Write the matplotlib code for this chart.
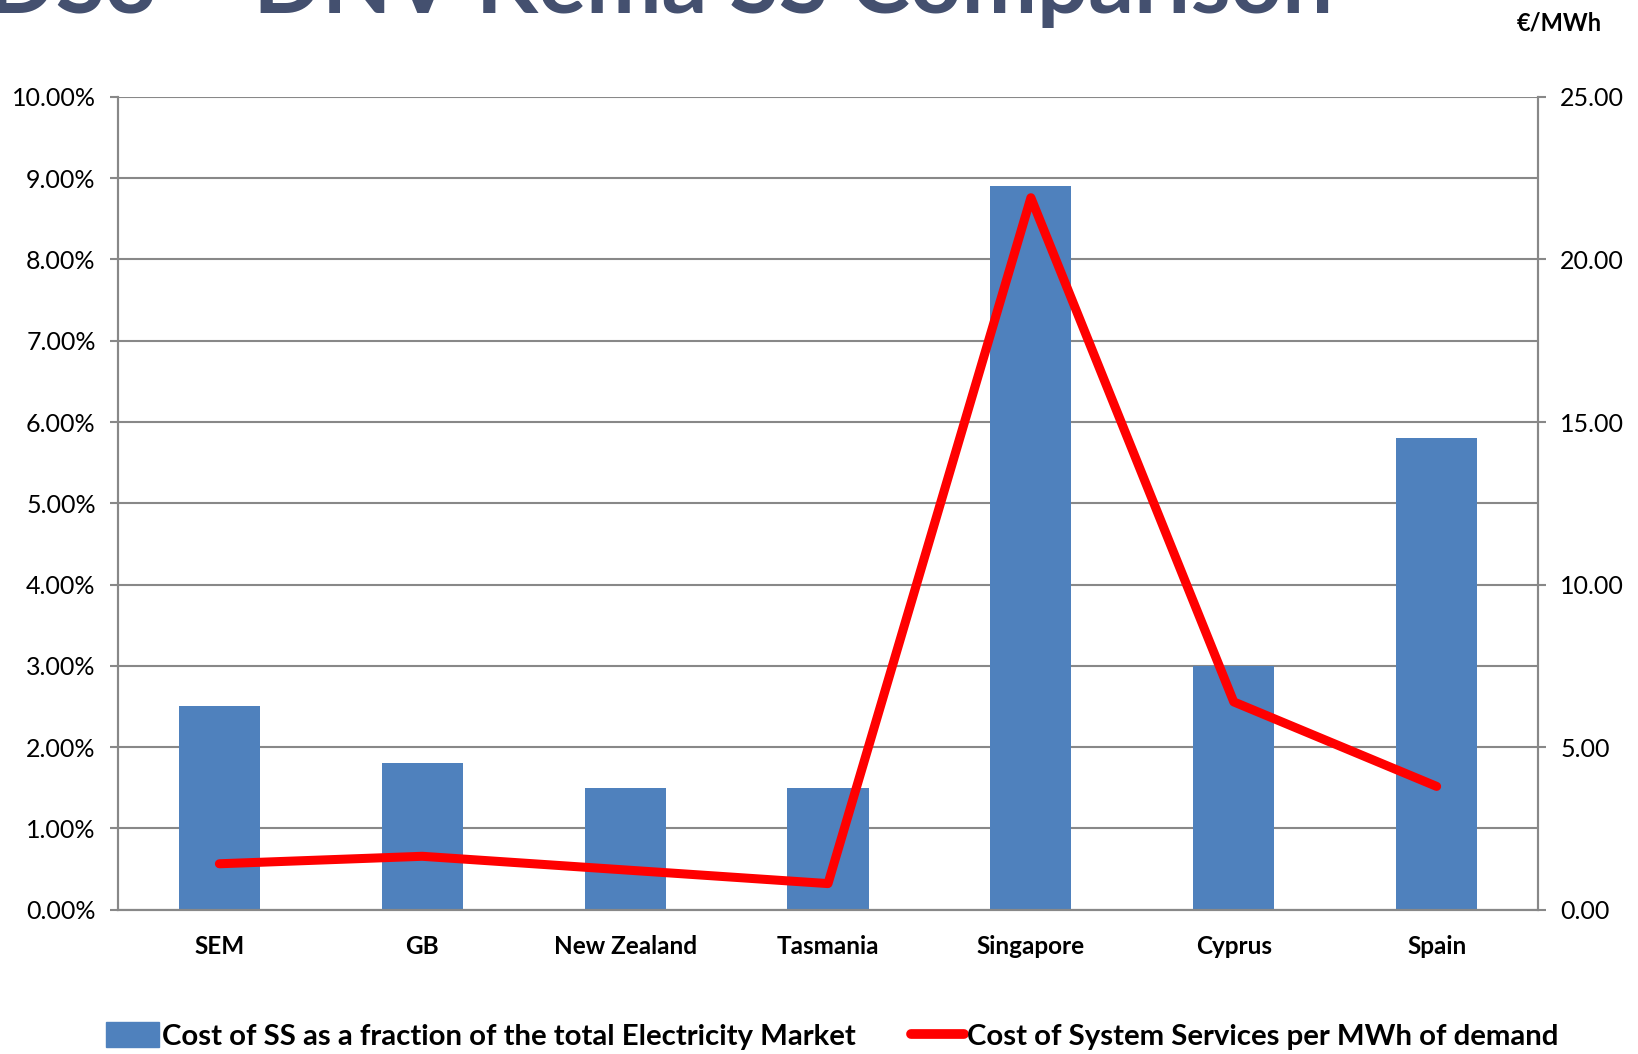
import matplotlib.pyplot as plt
from matplotlib.ticker import FuncFormatter
from matplotlib.patches import Patch
from matplotlib.lines import Line2D

# data
countries = ["SEM", "GB", "New Zealand", "Tasmania", "Singapore", "Cyprus", "Spain"]
share_pct = [2.5, 1.8, 1.5, 1.5, 8.9, 3.0, 5.8]            # % of total electricity market
cost_per_mwh = [1.41, 1.64, 1.22, 0.80, 21.9, 6.39, 3.79]  # EUR / MWh of demand

bar_label = "Cost of SS as a fraction of the total Electricity Market"
line_label = "Cost of System Services per MWh of demand"

plt.rcParams['font.family'] = ['Lato', 'DejaVu Sans']

fig = plt.figure(figsize=(16.38, 10.54), dpi=100)
ax = fig.add_axes([0.072, 0.137, 0.867, 0.771])
ax2 = ax.twinx()

x = list(range(len(countries)))
ax.bar(x, share_pct, width=0.4, color="#4F81BD", zorder=2)
ax2.plot(x, cost_per_mwh, color="#FF0000", lw=6.5, solid_capstyle="round",
         solid_joinstyle="round", zorder=3)

ax.set_xlim(-0.5, len(countries) - 0.5)
ax.set_ylim(0, 10)
ax.set_yticks(range(0, 11))
ax.yaxis.set_major_formatter(FuncFormatter(lambda v, p: "%.2f%%" % v))
ax2.set_ylim(0, 25)
ax2.set_yticks(range(0, 26, 5))
ax2.yaxis.set_major_formatter(FuncFormatter(lambda v, p: "%.2f" % v))

ax.set_xticks(x)
ax.set_xticklabels(countries, fontsize=17.5, fontweight="bold")
ax.tick_params(axis="x", length=0, pad=18)
ax.tick_params(axis="y", labelsize=18, length=6, width=1.5, color="#888888", pad=10)
ax2.tick_params(axis="y", labelsize=18, length=6, width=1.5, color="#888888", pad=10)

ax.yaxis.grid(True, color="#888888", lw=1.5, zorder=0)
ax.set_axisbelow(True)
for a in (ax, ax2):
    a.spines["top"].set_visible(False)
    for s in ("left", "right", "bottom"):
        a.spines[s].set_color("#888888")
        a.spines[s].set_linewidth(1.5)
ax.set_zorder(0)
ax2.set_zorder(1)
ax2.patch.set_visible(False)

# slide title, cut off by the top edge
fig.text(-0.008, 0.988, "DS3 \u2013 DNV Kema SS Comparison", fontsize=65,
         fontweight="bold", color="#44506F", ha="left", va="baseline")
fig.text(0.952, 0.978, "\u20ac/MWh", fontsize=17, fontweight="bold", ha="center", va="center")

handles = [Patch(color="#4F81BD"),
           Line2D([0], [0], color="#FF0000", lw=7, solid_capstyle="round")]
fig.legend(handles, [bar_label, line_label], loc="center", bbox_to_anchor=(0.508, 0.017),
           ncol=2, frameon=False, prop={"size": 21.2, "weight": "bold"},
           handlelength=1.8, handletextpad=0.1, columnspacing=1.9, handleheight=0.9)

plt.savefig("out.png")
plt.close("all")
